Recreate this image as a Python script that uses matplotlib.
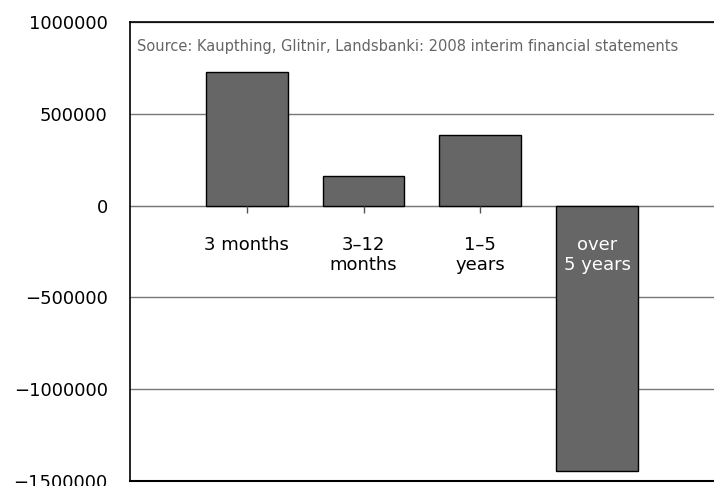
import numpy as np
import matplotlib.pyplot as plt

categories = ["3 months", "3\u201312\nmonths", "1\u20135\nyears", "over\n5 years"]
values = [730000, 162000, 384000, -1445000]
yticks = [1000000, 500000, 0, -500000, -1000000, -1500000]
source = "Source: Kaupthing, Glitnir, Landsbanki: 2008 interim financial statements"

plt.rcParams['font.family'] = ['DejaVu Sans']

fig = plt.figure(figsize=(7.14, 4.86), dpi=100)
ax = fig.add_axes([0.182, 0.011, 0.818, 0.943])

x = np.arange(len(categories))
ax.bar(x, values, width=0.7, color='#666666', edgecolor='black', linewidth=1.0, zorder=3)

ax.set_ylim(-1500000, 1000000)
ax.set_xlim(-1.0, 4.0)
ax.set_yticks(yticks)
ax.set_yticklabels([f"{v:d}".replace("-", "\u2212") for v in yticks], fontsize=13)
ax.tick_params(axis='y', length=0, pad=16)

# horizontal grid lines
ax.grid(axis='y', color='#777777', linewidth=1.0)
ax.set_axisbelow(True)

# x axis sits on the zero line
ax.spines['bottom'].set_position(('data', 0))
ax.spines['bottom'].set_color('#777777')
ax.spines['bottom'].set_zorder(2)
ax.spines['right'].set_visible(False)
ax.spines['left'].set_linewidth(1.2)
ax.spines['top'].set_linewidth(1.2)
ax.axhline(-1500000, color='black', linewidth=1.5, clip_on=False)

ax.set_xticks(x)
ax.set_xticklabels(categories, fontsize=13, va='top', linespacing=1.15)
ax.tick_params(axis='x', length=5, width=1, color='#555555', pad=17, direction='out')
ax.get_xticklabels()[-1].set_color('white')
ax.xaxis.get_major_ticks()[-1].tick1line.set_visible(False)
ax.xaxis.set_zorder(4)  # keep the last label visible on top of its bar

ax.text(0.012, 0.963, source, transform=ax.transAxes, fontsize=10.5,
        color='#666666', va='top', ha='left')

fig.savefig("out.png", dpi=100)
